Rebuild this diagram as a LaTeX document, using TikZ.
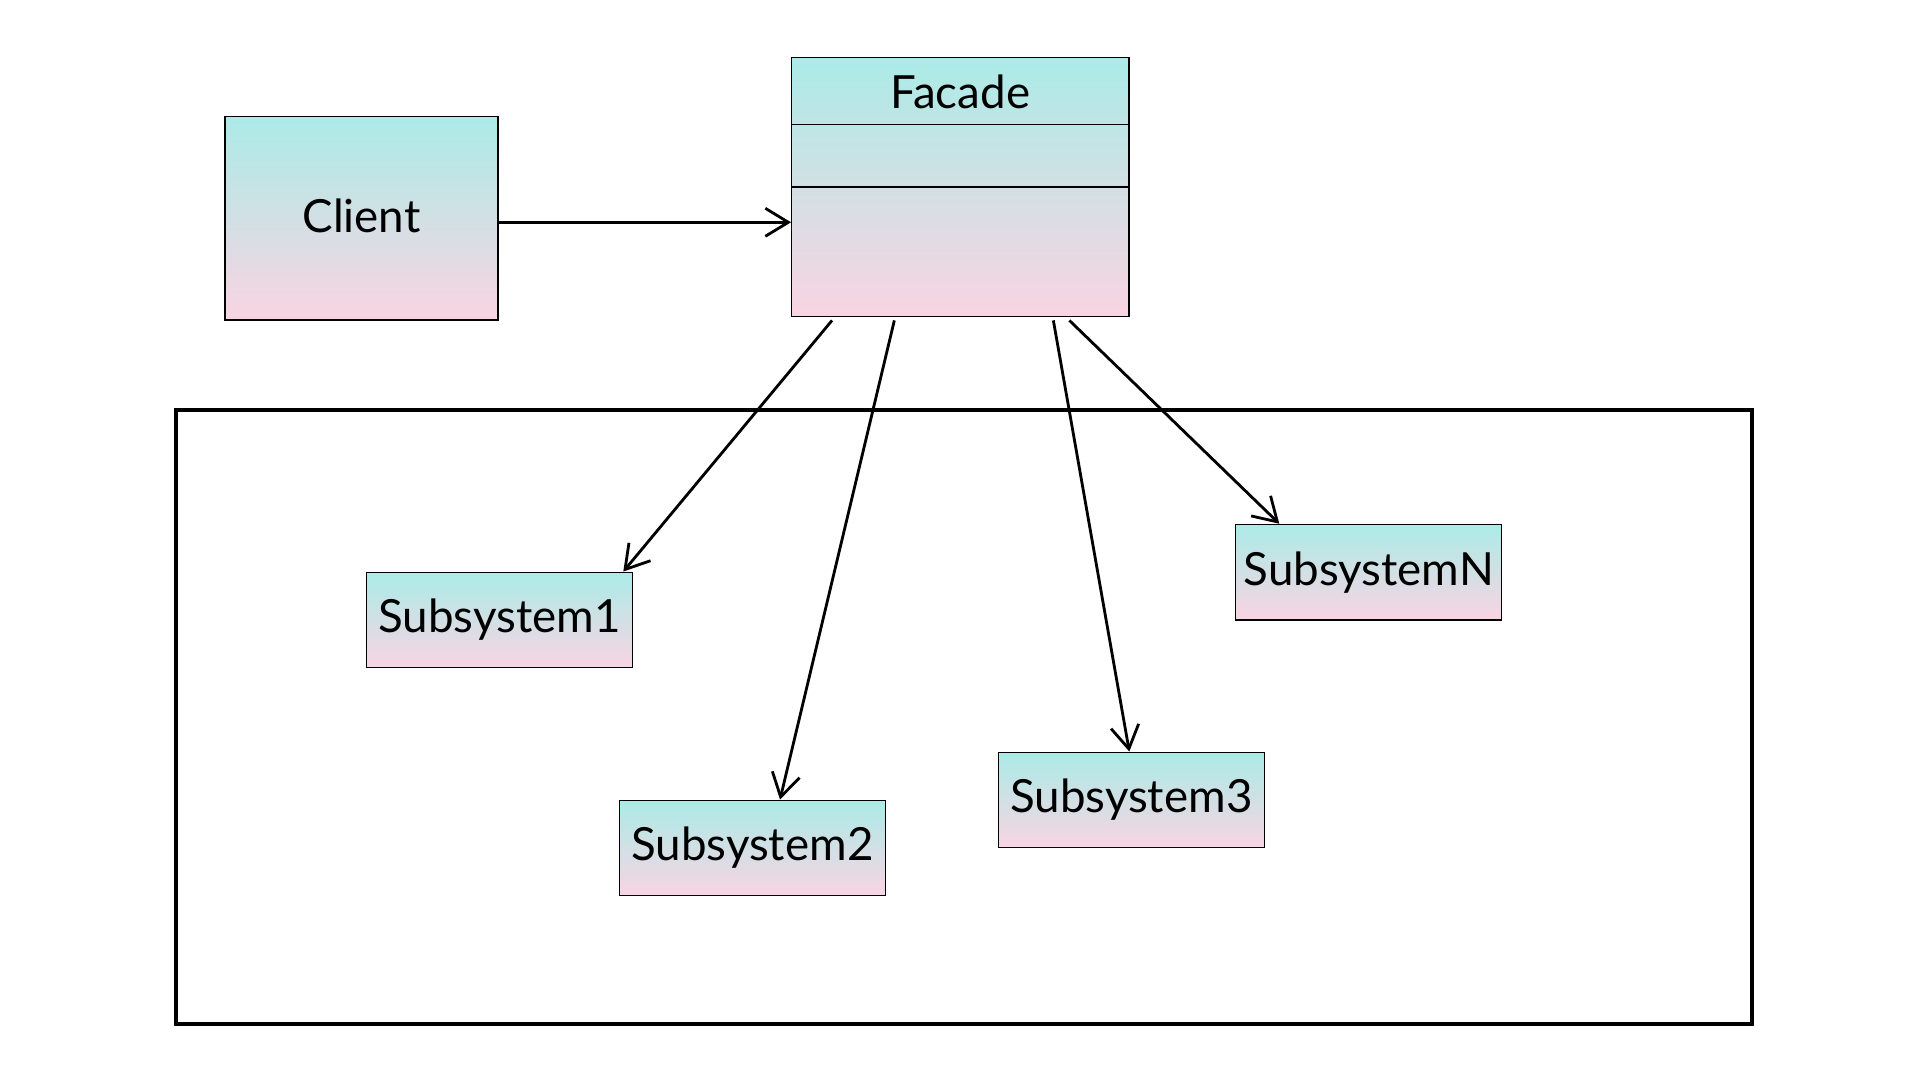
\documentclass[tikz,border=0pt]{standalone}
\usepackage{fontspec}
\setmainfont{Lato}
\usepackage{xcolor}
\usepackage{tikz}
\usetikzlibrary{arrows.meta}
\definecolor{boxtop}{HTML}{ABEBE7}
\definecolor{boxbottom}{HTML}{F9D4E2}

\begin{document}
\begin{tikzpicture}[
	box/.style={draw, line width=0.4pt, top color=boxtop, bottom color=boxbottom, inner sep=0pt, font=\fontsize{13}{15}\selectfont},
	subbox/.style={box, minimum width=2.66cm, minimum height=0.955cm},
	dep/.style={line width=0.8pt, -{Straight Barb[length=2.3mm, width=2.8mm]}}
]
			\useasboundingbox (0, 0) rectangle (19.2, -10.8);
			\node[box, minimum width=2.73cm, minimum height=2.035cm](client) at (3.615, -2.183) {\raisebox{0.05cm}{Client}};
			\node[box, minimum width=3.373cm, minimum height=2.594cm](facade) at (9.604, -1.87) {};
			\node[font=\fontsize{13}{15}\selectfont](facadename) at ([yshift=-0.35cm]facade.north) {Facade};
			\draw [line width=0.4pt] ([yshift=-0.68cm]facade.north west) -- ([yshift=-0.68cm]facade.north east);
			\draw [line width=0.4pt] ([yshift=-1.304cm]facade.north west) -- ([yshift=-1.304cm]facade.north east);
			\draw [line width=1.2pt] (1.763, -4.102) rectangle (17.523, -10.237);
			\node[subbox](sub1) at (4.995, -6.2) {Subsystem1};
			\node[subbox](sub2) at (7.523, -8.48) {Subsystem2};
			\node[subbox](sub3) at (11.313, -8.0) {Subsystem3};
			\node[subbox](subN) at (13.687, -5.722) {SubsystemN};
			\draw [dep] ([yshift=-0.04cm]client.east) -- ([yshift=-0.04cm]client.east -| facade.west);
			\draw [dep] ([xshift=0.41cm, yshift=-0.03cm]facade.south west) -- ([xshift=1.238cm]sub1.north);
			\draw [dep] ([xshift=1.033cm, yshift=-0.03cm]facade.south west) -- ([xshift=0.277cm]sub2.north);
			\draw [dep] ([xshift=2.623cm, yshift=-0.03cm]facade.south west) -- ([xshift=-0.02cm]sub3.north);
			\draw [dep] ([xshift=2.783cm, yshift=-0.03cm]facade.south west) -- ([xshift=-0.894cm]subN.north);
		\end{tikzpicture}
\end{document}
